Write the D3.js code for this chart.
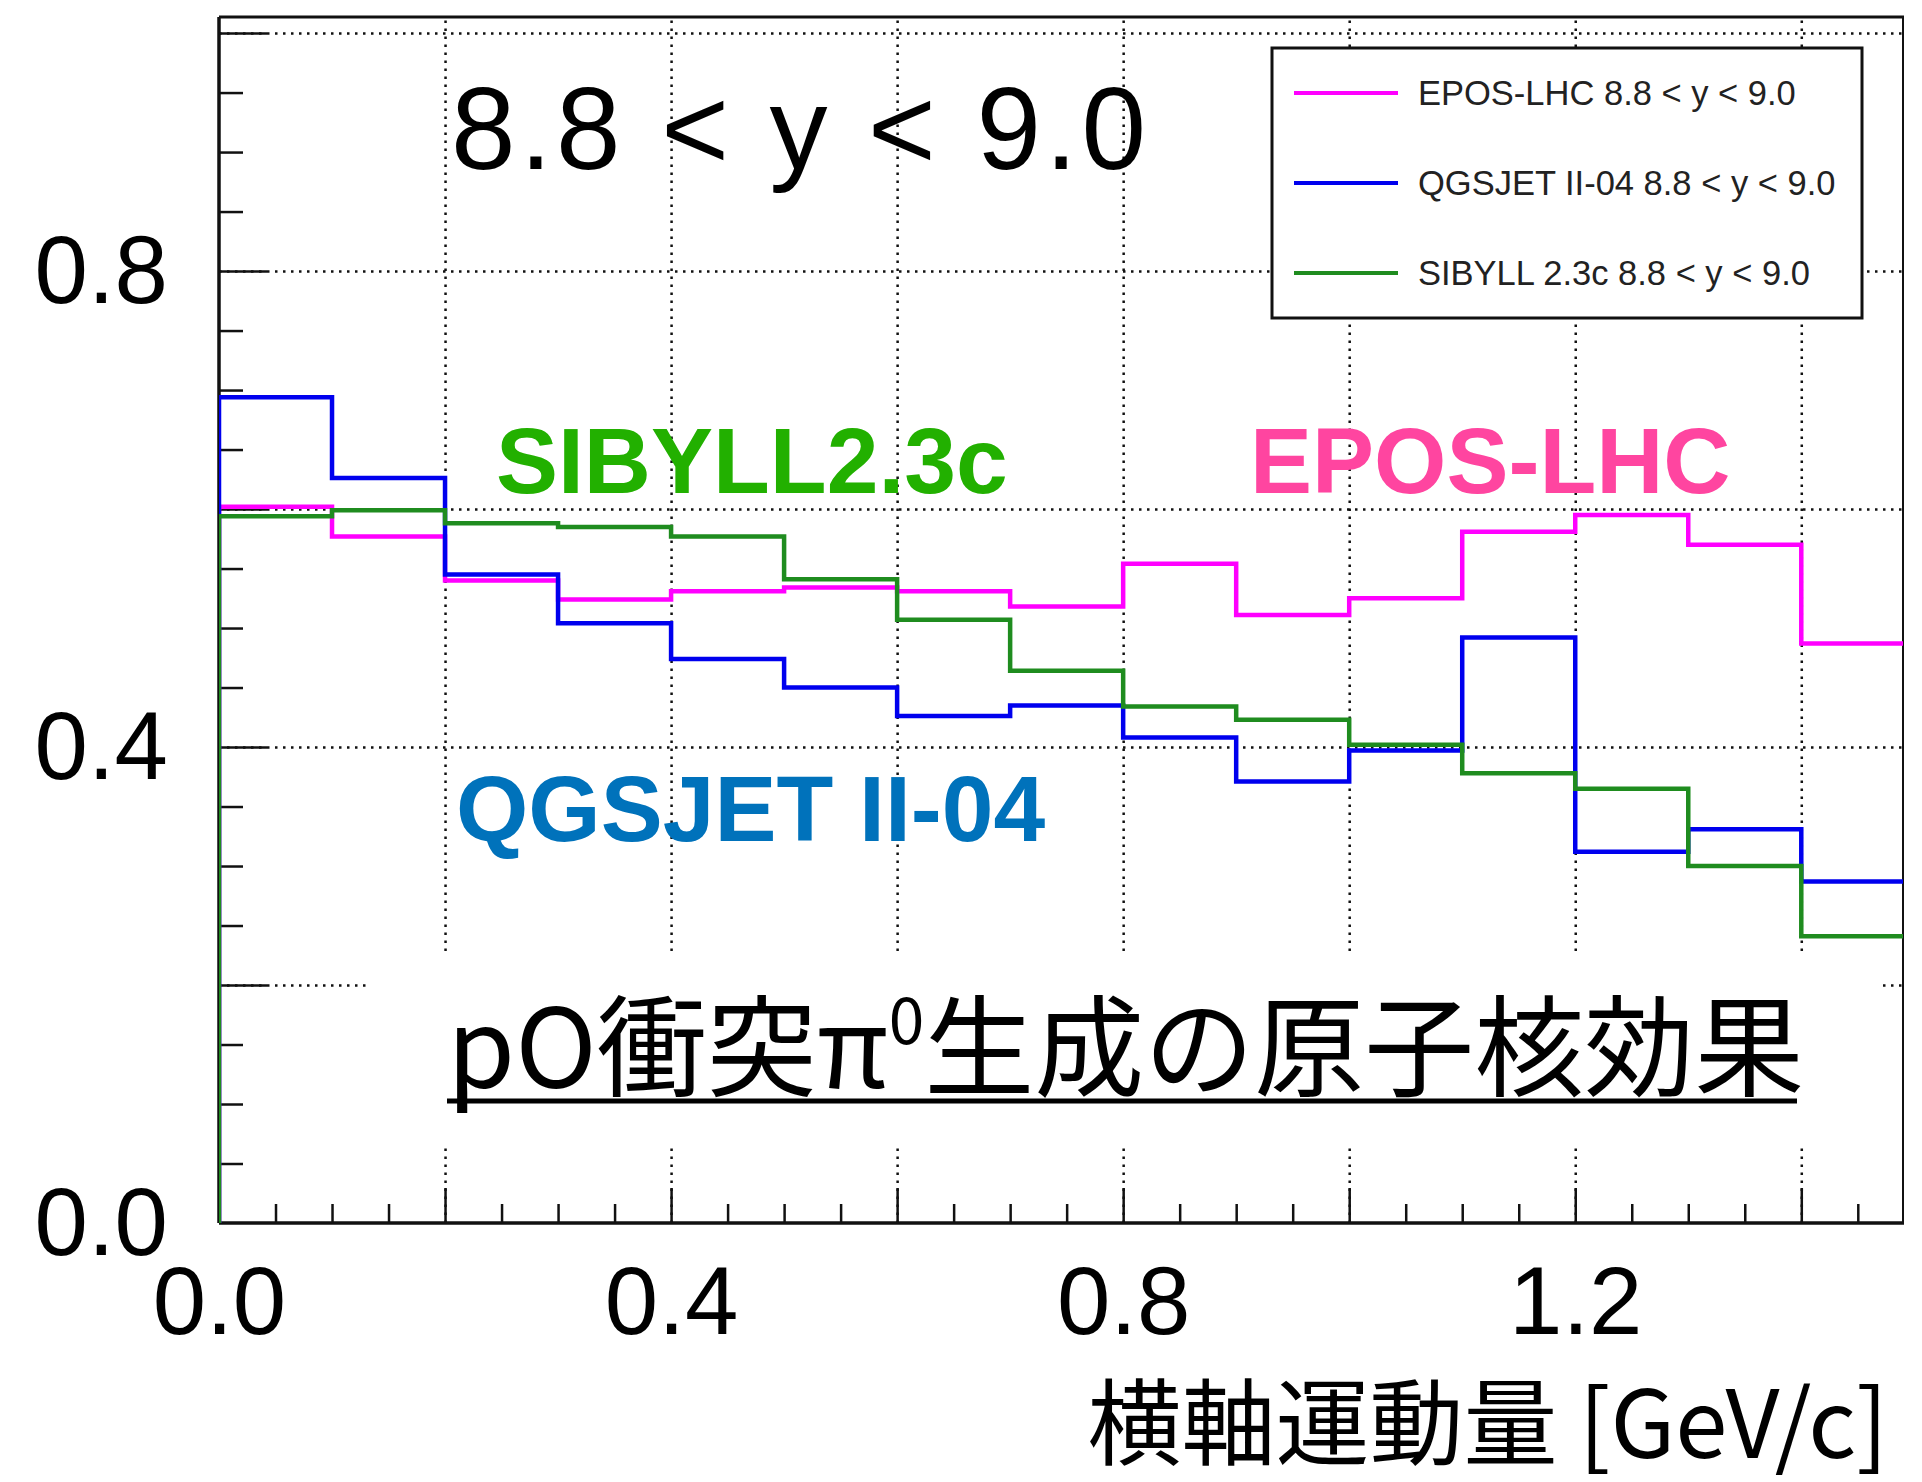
<!DOCTYPE html>
<html>
<head>
<meta charset="utf-8">
<script src="https://cdn.jsdelivr.net/npm/d3@7"></script>
<style>
  html, body { margin: 0; padding: 0; background: #fff; }
  svg { display: block; }
</style>
</head>
<body>
<svg id="chart" width="1922" height="1482"></svg>
<script>
// ---------------- DATA ----------------
const binEdges = [0.0, 0.1, 0.2, 0.3, 0.4, 0.5, 0.6, 0.7, 0.8, 0.9, 1.0, 1.1, 1.2, 1.3, 1.4, 1.5];
const eposLHC  = [0.602, 0.577, 0.540, 0.524, 0.531, 0.534, 0.531, 0.518, 0.554, 0.511, 0.525, 0.581, 0.595, 0.570, 0.487];
const qgsjet   = [0.694, 0.626, 0.545, 0.504, 0.474, 0.450, 0.426, 0.435, 0.408, 0.371, 0.397, 0.492, 0.312, 0.331, 0.287];
const sibyll   = [0.594, 0.599, 0.588, 0.585, 0.577, 0.541, 0.507, 0.464, 0.434, 0.423, 0.402, 0.378, 0.365, 0.300, 0.241];
const seriesNames = ["EPOS-LHC 8.8 < y < 9.0", "QGSJET II-04 8.8 < y < 9.0", "SIBYLL 2.3c 8.8 < y < 9.0"];
const xTickLabels = [0.0, 0.4, 0.8, 1.2];
const yTickLabels = [0.0, 0.4, 0.8];
const xGridValues = [0.2, 0.4, 0.6, 0.8, 1.0, 1.2, 1.4];
const yGridValues = [0.2, 0.4, 0.6, 0.8, 1.0];
const xMinorTicks = [0.05,0.1,0.15,0.25,0.3,0.35,0.45,0.5,0.55,0.65,0.7,0.75,0.85,0.9,0.95,1.05,1.1,1.15,1.25,1.3,1.35,1.45];
const yMinorTicks = [0.05,0.1,0.15,0.25,0.3,0.35,0.45,0.5,0.55,0.65,0.7,0.75,0.85,0.9,0.95];
const xDomain = [0, 1.49];
const yDomain = [0, 1.0135];
const titleText = "8.8 < y < 9.0";
const xAxisTitle = "横軸運動量 [GeV/c]";
const modelLabels = ["EPOS-LHC", "QGSJET II-04", "SIBYLL2.3c"];
const noteParts = ["pO衝突π", "0", "生成の原子核効果"];

// ---------------- LAYOUT / STYLE ----------------
const L = 219, R = 1903, T = 17, B = 1223;
const colors = { epos: "#ff00ff", qgs: "#0000ee", sib: "#1f8c1f" };
const labelColors = { epos: "#ff45a0", qgs: "#0072bb", sib: "#22b000" };
const LATIN = "'Liberation Sans', Arial, Helvetica, sans-serif";
const CJK = "'Noto Sans CJK JP', 'Noto Sans CJK SC', sans-serif";

const svg = d3.select("#chart");
svg.append("rect").attr("width", 1922).attr("height", 1482).attr("fill", "#fff");

const x = d3.scaleLinear().domain(xDomain).range([L, R]);
const y = d3.scaleLinear().domain(yDomain).range([B, T]);

// clip
svg.append("defs").append("clipPath").attr("id", "plotclip")
  .append("rect").attr("x", L).attr("y", T).attr("width", R - L).attr("height", B - T);

// grid
const gridStyle = g => {
  g.select(".domain").remove();
  g.selectAll("text").remove();
  g.selectAll("line").attr("stroke", "#111").attr("stroke-width", 2.5).attr("stroke-dasharray", "2.5,5.5");
};
svg.append("g").attr("transform", `translate(0,${B})`)
  .call(d3.axisBottom(x).tickValues(xGridValues).tickSize(-(B - T)).tickFormat(""))
  .call(gridStyle);
svg.append("g").attr("transform", `translate(${L},0)`)
  .call(d3.axisLeft(y).tickValues(yGridValues).tickSize(-(R - L)).tickFormat(""))
  .call(gridStyle);

// white box behind the note
svg.append("rect").attr("x", 368).attr("y", 952).attr("width", 1878 - 368).attr("height", 1143 - 952).attr("fill", "#fff");

// ticks
const tickStyle = g => {
  g.select(".domain").remove();
  g.selectAll("text").remove();
  g.selectAll("line").attr("stroke", "#111").attr("stroke-width", 2.5);
};
svg.append("g").attr("transform", `translate(0,${B})`)
  .call(d3.axisBottom(x).tickValues(xGridValues).tickSize(-35).tickFormat("")).call(tickStyle);
svg.append("g").attr("transform", `translate(0,${B})`)
  .call(d3.axisBottom(x).tickValues(xMinorTicks).tickSize(-19).tickFormat("")).call(tickStyle);
svg.append("g").attr("transform", `translate(${L},0)`)
  .call(d3.axisLeft(y).tickValues(yGridValues).tickSize(-48).tickFormat("")).call(tickStyle);
svg.append("g").attr("transform", `translate(${L},0)`)
  .call(d3.axisLeft(y).tickValues(yMinorTicks).tickSize(-24).tickFormat("")).call(tickStyle);

// frame
svg.append("line").attr("x1", R).attr("x2", R).attr("y1", T).attr("y2", B).attr("stroke", "#111").attr("stroke-width", 2);
svg.append("line").attr("x1", L).attr("x2", R + 1).attr("y1", T).attr("y2", T).attr("stroke", "#111").attr("stroke-width", 3);
svg.append("line").attr("x1", L).attr("x2", L).attr("y1", T).attr("y2", B).attr("stroke", "#111").attr("stroke-width", 3.5);
svg.append("line").attr("x1", L).attr("x2", R + 1).attr("y1", B).attr("y2", B).attr("stroke", "#111").attr("stroke-width", 3.5);

// histograms
function stepPoints(vals) {
  const pts = [[binEdges[0], 0]];
  vals.forEach((v, i) => { pts.push([binEdges[i], v]); pts.push([binEdges[i + 1], v]); });
  pts.push([binEdges[vals.length], 0]);
  return pts;
}
const line = d3.line().x(d => x(d[0])).y(d => y(d[1]));
const hg = svg.append("g").attr("clip-path", "url(#plotclip)");
[[eposLHC, colors.epos], [qgsjet, colors.qgs], [sibyll, colors.sib]].forEach(([vals, c]) => {
  hg.append("path").attr("d", line(stepPoints(vals))).attr("fill", "none")
    .attr("stroke", c).attr("stroke-width", 4.5).attr("stroke-linejoin", "miter");
});

// axis labels
const xl = svg.append("g").attr("transform", `translate(0,${B})`)
  .call(d3.axisBottom(x).tickValues(xTickLabels).tickSize(0).tickFormat(d3.format(".1f")));
xl.select(".domain").remove();
xl.selectAll("text").attr("y", 111).attr("dy", 0).attr("font-family", LATIN).attr("font-size", 96).attr("fill", "#000");

const yl = svg.append("g").attr("transform", `translate(${L},0)`)
  .call(d3.axisLeft(y).tickValues(yTickLabels).tickSize(0).tickFormat(d3.format(".1f")));
yl.select(".domain").remove();
yl.selectAll("text").attr("x", -51).attr("dy", 31).attr("font-family", LATIN).attr("font-size", 96).attr("fill", "#000");

// x axis title
svg.append("text").attr("x", 1888).attr("y", 1458).attr("text-anchor", "end")
  .attr("font-family", CJK).attr("font-size", 94).attr("fill", "#000").text(xAxisTitle);

// rapidity title
svg.append("text").attr("x", 451).attr("y", 169).attr("font-family", LATIN).attr("font-size", 116)
  .attr("textLength", 695).attr("lengthAdjust", "spacing").attr("fill", "#000").text(titleText);

// model labels
svg.append("text").attr("x", 1250).attr("y", 493).attr("font-family", LATIN).attr("font-weight", "bold")
  .attr("font-size", 93).attr("fill", labelColors.epos).text(modelLabels[0]);
svg.append("text").attr("x", 456).attr("y", 841).attr("font-family", LATIN).attr("font-weight", "bold")
  .attr("font-size", 93).attr("fill", labelColors.qgs).text(modelLabels[1]);
svg.append("text").attr("x", 496).attr("y", 493).attr("font-family", LATIN).attr("font-weight", "bold")
  .attr("font-size", 93).attr("fill", labelColors.sib).text(modelLabels[2]);

// note
const note = svg.append("text").attr("x", 447).attr("y", 1088).attr("font-family", CJK)
  .attr("font-size", 110).attr("fill", "#000");
note.append("tspan").text(noteParts[0]);
note.append("tspan").attr("font-size", 64).attr("dy", -44).text(noteParts[1]);
note.append("tspan").attr("dy", 44).text(noteParts[2]);
svg.append("line").attr("x1", 447).attr("x2", 1797).attr("y1", 1101).attr("y2", 1101)
  .attr("stroke", "#000").attr("stroke-width", 5);

// legend
const lg = svg.append("g");
lg.append("rect").attr("x", 1272).attr("y", 48).attr("width", 590).attr("height", 270)
  .attr("fill", "#fff").attr("stroke", "#111").attr("stroke-width", 3);
const legendRows = [
  { name: seriesNames[0], c: colors.epos, yy: 93 },
  { name: seriesNames[1], c: colors.qgs, yy: 183 },
  { name: seriesNames[2], c: colors.sib, yy: 273 }
];
legendRows.forEach(r => {
  lg.append("line").attr("x1", 1294).attr("x2", 1398).attr("y1", r.yy).attr("y2", r.yy)
    .attr("stroke", r.c).attr("stroke-width", 4);
  lg.append("text").attr("x", 1418).attr("y", r.yy + 12).attr("font-family", LATIN)
    .attr("font-size", 34.5).attr("fill", "#222").text(r.name);
});
</script>
</body>
</html>
